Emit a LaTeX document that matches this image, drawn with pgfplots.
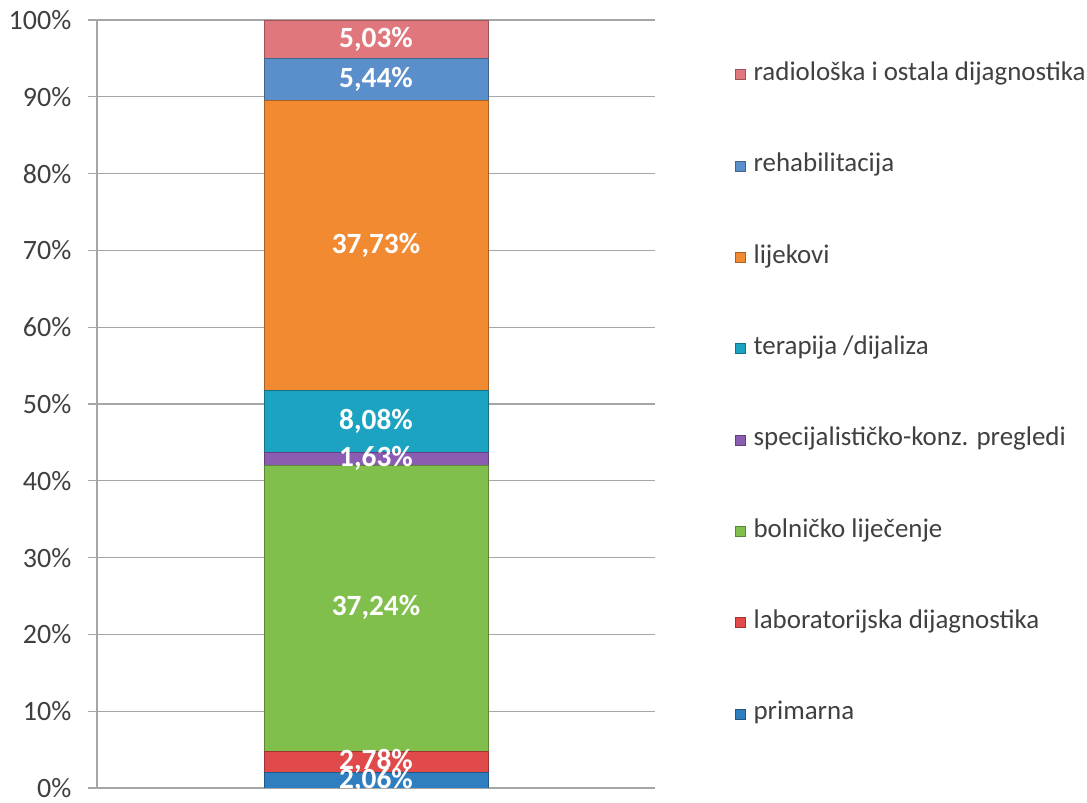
\documentclass[border=0pt]{standalone}
\usepackage{fontspec}
\setmainfont{Carlito}
\usepackage{pgfplots}
\pgfplotsset{compat=1.18}
\definecolor{cPrim}{HTML}{2F7EC0}
\definecolor{cLab}{HTML}{E04A4A}
\definecolor{cBol}{HTML}{80BF4C}
\definecolor{cSpec}{HTML}{8A5DB2}
\definecolor{cTer}{HTML}{1BA3C1}
\definecolor{cLij}{HTML}{F28A32}
\definecolor{cReh}{HTML}{5B8FCB}
\definecolor{cRad}{HTML}{E0777C}
\definecolor{cGrid}{HTML}{A6A6A6}
\definecolor{cTxt}{HTML}{404040}
\begin{document}
\begin{tikzpicture}
\path (0,0) rectangle (815.25pt,597pt);
\begin{axis}[
  at={(72.75pt,6pt)}, anchor=south west,
  scale only axis, width=418.5pt, height=576pt,
  ybar stacked, bar width=168pt,
  xmin=-1, xmax=1, ymin=0, ymax=100,
  xtick=\empty,
  ytick={0,10,...,100},
  yticklabel={\pgfmathprintnumber{\tick}\%},
  /pgf/number format/assume math mode=true,
  ymajorgrids, grid style={cGrid, line width=0.8pt},
  axis x line*=bottom, axis y line*=left,
  axis line style={cGrid, line width=0.8pt, -},
  tick align=outside, major tick length=6.75pt,
  tick style={cGrid, line width=0.8pt},
  yticklabel style={font=\fontsize{21}{21}\selectfont, text=cTxt, xshift=-9pt},
  point meta=explicit,
  nodes near coords={\pgfmathprintnumber[fixed,precision=2,fixed zerofill,use comma]{\pgfplotspointmeta}\%},
  every node near coord/.append style={anchor=center, font=\fontsize{22}{22}\selectfont\bfseries, text=white},
  reverse legend,
  legend cell align=left,
  legend style={draw=none, fill=none, at={(1.143,0.945)}, anchor=north west,
    inner sep=0pt, row sep=50.5pt, column sep=6pt,
    font=\fontsize{20.2}{20.2}\selectfont, text=cTxt,
    nodes={inner sep=0pt, text height=13.5pt, text depth=4.5pt}},
  legend image code/.code={\fill[#1] (0pt,-3.75pt) rectangle (7.5pt,3.75pt);},
]
\addplot[fill=cPrim, draw=cPrim!70!black] coordinates {(0,2.06) [2.06]};
\addlegendentry{primarna}
\addplot[fill=cLab, draw=cLab!70!black] coordinates {(0,2.78) [2.78]};
\addlegendentry{laboratorijska dijagnostika}
\addplot[fill=cBol, draw=cBol!70!black] coordinates {(0,37.24) [37.24]};
\addlegendentry{bolničko liječenje}
\addplot[fill=cSpec, draw=cSpec!70!black] coordinates {(0,1.63) [1.63]};
\addlegendentry{specijalističko-konz. pregledi}
\addplot[fill=cTer, draw=cTer!70!black] coordinates {(0,8.08) [8.08]};
\addlegendentry{terapija /dijaliza}
\addplot[fill=cLij, draw=cLij!70!black] coordinates {(0,37.73) [37.73]};
\addlegendentry{lijekovi}
\addplot[fill=cReh, draw=cReh!70!black] coordinates {(0,5.44) [5.44]};
\addlegendentry{rehabilitacija}
\addplot[fill=cRad, draw=cRad!70!black] coordinates {(0,5.03) [5.03]};
\addlegendentry{radiološka i ostala dijagnostika}
\end{axis}
\end{tikzpicture}
\end{document}
